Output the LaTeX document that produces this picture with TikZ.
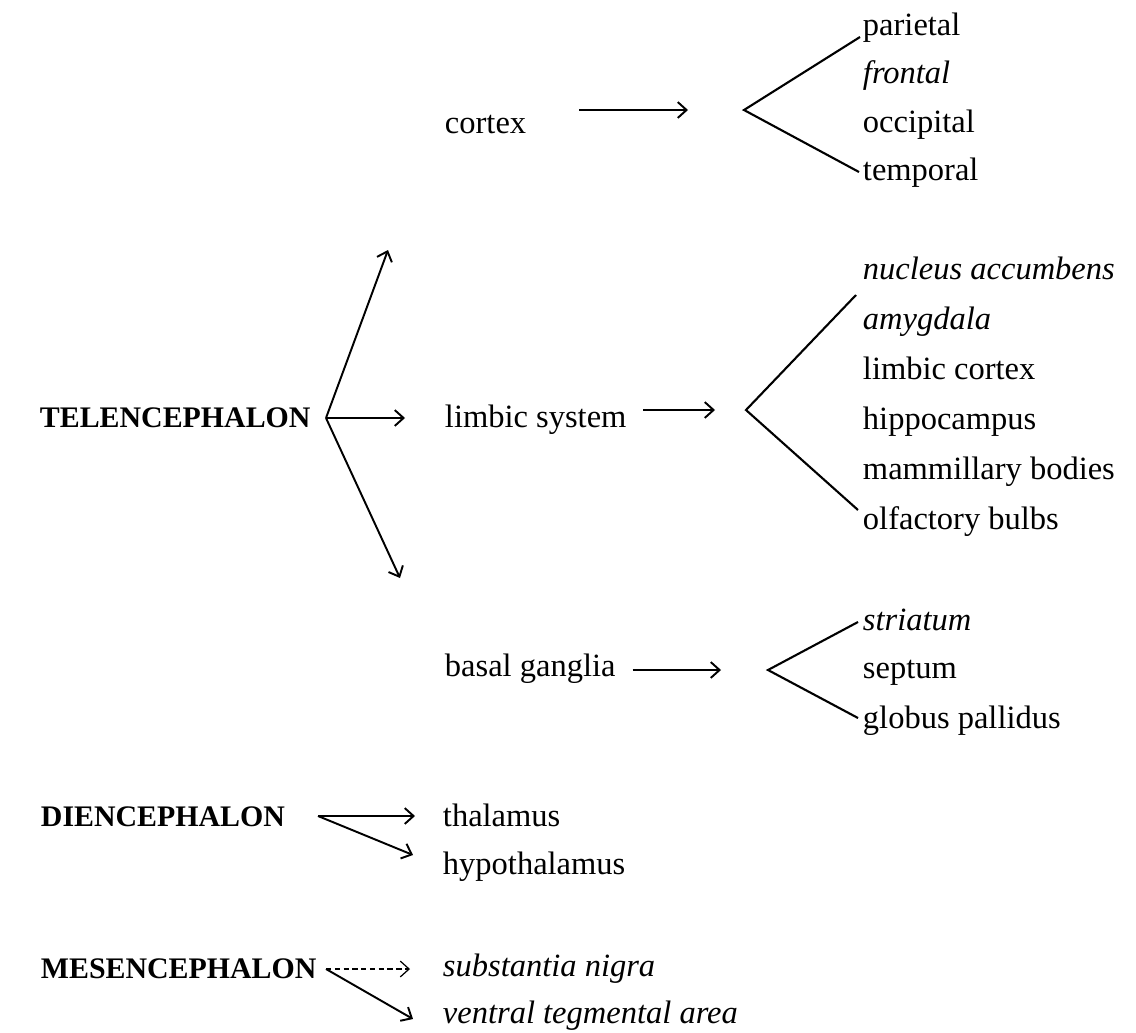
\documentclass[tikz,border=0pt]{standalone}
\usepackage{fontspec}
\setmainfont{Liberation Serif}
\usetikzlibrary{arrows.meta}

\begin{document}
\begin{tikzpicture}[>={Straight Barb[length=5pt,width=9pt]}, x=0.02cm, y=-0.02cm,
  line width=1.1pt,
  part/.style={anchor=base west, inner sep=0pt, font=\fontsize{17}{20}\selectfont\bfseries},
  item/.style={anchor=base west, inner sep=0pt, font=\fontsize{18.5}{22}\selectfont},
  fork/.style={line width=1.2pt}]

\useasboundingbox (0,0) rectangle (1136,1032);

% cortex
\node[item] (cortex) at (444,133) {cortex};
\node[item] (parietal) at (862,35) {parietal};
\node[item] (frontal) at (862,83) {\itshape frontal};
\node[item] (occipital) at (862,132) {occipital};
\node[item] (temporal) at (862,180) {temporal};
\coordinate (ctxfork) at (744,110);
\coordinate (ctxtop) at (860,37);
\coordinate (ctxbot) at (859,172);
\draw[->, shorten <=1.04cm, shorten >=1.12cm] (cortex.east |- ctxfork) -- (ctxfork);
\draw[fork] (ctxtop) -- (ctxfork) -- (ctxbot);

% telencephalon, limbic system
\node[part] (tel) at (39,427) {TELENCEPHALON};
\node[item] (limbic) at (444,427) {limbic system};
\node[item] (accumbens) at (862,279) {\itshape nucleus accumbens};
\node[item] (amygdala) at (862,329) {\itshape amygdala};
\node[item] (limcortex) at (862,379) {limbic cortex};
\node[item] (hippocampus) at (862,429) {hippocampus};
\node[item] (mammillary) at (862,479) {mammillary bodies};
\node[item] (olfactory) at (862,529) {olfactory bulbs};
\coordinate (limfork) at (746,410);
\coordinate (limtop) at (856,295);
\coordinate (limbot) at (858,510);
\draw[->, shorten <=0.32cm, shorten >=0.62cm] (limbic.east |- limfork) -- (limfork);
\draw[fork] (limtop) -- (limfork) -- (limbot);

\coordinate (telfork) at (326,418);
\coordinate (telup) at (388,250);
\coordinate (teldown) at (400,578);
\draw[->] (telfork) -- (telup);
\draw[->] (telfork) -- (teldown);
\draw[->, shorten >=0.78cm] (telfork) -- (limbic.west |- telfork);

% basal ganglia
\node[item] (basal) at (444,676) {basal ganglia};
\node[item] (striatum) at (862,630) {\itshape striatum};
\node[item] (septum) at (862,678) {septum};
\node[item] (pallidus) at (862,728) {globus pallidus};
\coordinate (basfork) at (768,670);
\coordinate (bastop) at (858,622);
\coordinate (basbot) at (858,718);
\draw[->, shorten <=0.32cm, shorten >=0.94cm] (basal.east |- basfork) -- (basfork);
\draw[fork] (bastop) -- (basfork) -- (basbot);

% diencephalon
\node[part] (dien) at (40,826) {DIENCEPHALON};
\node[item] (thalamus) at (442,826) {thalamus};
\node[item] (hypothalamus) at (442,874) {hypothalamus};
\coordinate (difork) at (318,816);
\coordinate (dihypo) at (413,855);
\draw[->, shorten >=0.54cm] (difork) -- (thalamus.west |- difork);
\draw[->] (difork) -- (dihypo);

% mesencephalon
\node[part] (mes) at (40,978) {MESENCEPHALON};
\node[item] (nigra) at (442,976) {\itshape substantia nigra};
\node[item] (vta) at (442,1023) {\itshape ventral tegmental area};
\coordinate (mesfork) at (326,969);
\coordinate (mesvta) at (413,1019);
\draw[->, densely dashed, line width=0.7pt, shorten >=0.64cm] (mesfork) -- (nigra.west |- mesfork);
\draw[->] (mesfork) -- (mesvta);

\end{tikzpicture}
\end{document}
